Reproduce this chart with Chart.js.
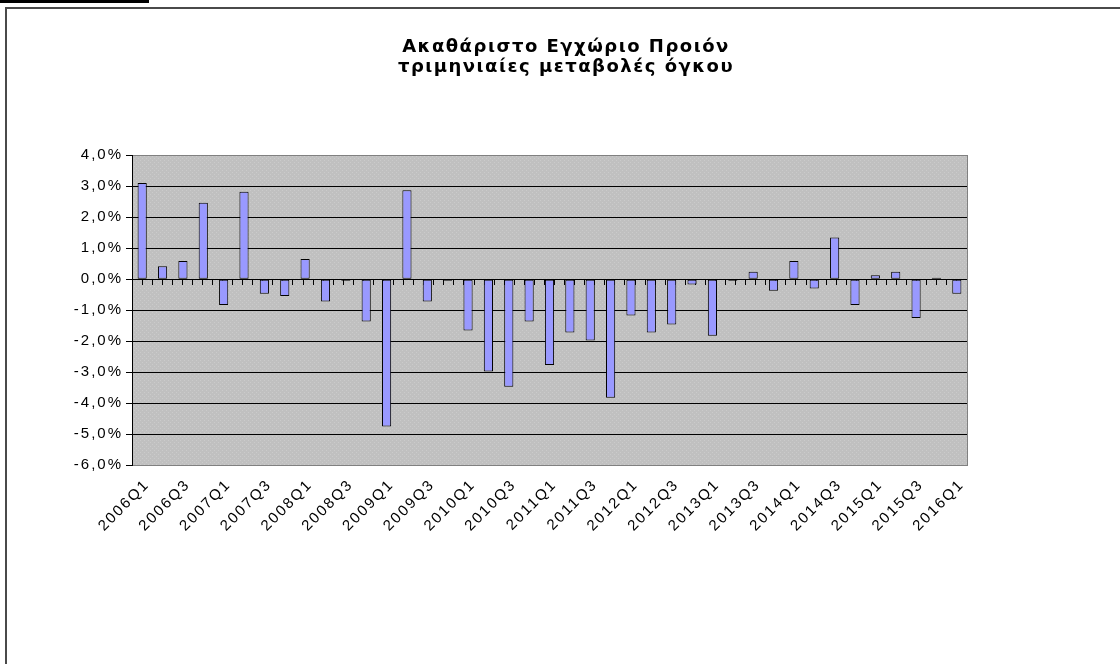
<!DOCTYPE html>
<html>
<head>
<meta charset="utf-8">
<title>ΑΕΠ - τριμηνιαίες μεταβολές</title>
<script src="https://cdn.jsdelivr.net/npm/chart.js@4.4.1/dist/chart.umd.min.js"></script>
<style>
	html, body { margin: 0; padding: 0; background: #fff; }
	#wrap { position: relative; width: 1120px; height: 664px; overflow: hidden; }
	#box { position: absolute; left: 0; top: 0; width: 1120px; height: 664px; }
	.tab { position: absolute; left: 0; top: 0; width: 149px; height: 3px; background: #000; }
	.frameTop { position: absolute; left: 5px; top: 7px; right: 0; height: 2px; background: #4a4a4a; }
	.frameLeft { position: absolute; left: 5px; top: 7px; bottom: 0; width: 2px; background: #4a4a4a; }
</style>
</head>
<body>
<div id="wrap">
	<div id="box"><canvas id="gdpcanvas"></canvas></div>
	<div class="tab"></div>
	<div class="frameTop"></div>
	<div class="frameLeft"></div>
</div>
<script>
	var titleLines = ['Ακαθάριστο Εγχώριο Προιόν', 'τριμηνιαίες μεταβολές όγκου'];

	var quarters = [
		'2006Q1', '2006Q2', '2006Q3', '2006Q4',
		'2007Q1', '2007Q2', '2007Q3', '2007Q4',
		'2008Q1', '2008Q2', '2008Q3', '2008Q4',
		'2009Q1', '2009Q2', '2009Q3', '2009Q4',
		'2010Q1', '2010Q2', '2010Q3', '2010Q4',
		'2011Q1', '2011Q2', '2011Q3', '2011Q4',
		'2012Q1', '2012Q2', '2012Q3', '2012Q4',
		'2013Q1', '2013Q2', '2013Q3', '2013Q4',
		'2014Q1', '2014Q2', '2014Q3', '2014Q4',
		'2015Q1', '2015Q2', '2015Q3', '2015Q4',
		'2016Q1'
	];

	// % change on previous quarter
	var volumeChange = [
		3.11, 0.42, 0.59, 2.47,
		-0.83, 2.82, -0.47, -0.54,
		0.65, -0.72, -0.05, -1.37,
		-4.76, 2.87, -0.72, -0.05,
		-1.66, -2.98, -3.47, -1.37,
		-2.77, -1.72, -1.98, -3.83,
		-1.17, -1.72, -1.46, -0.17,
		-1.83, -0.05, 0.24, -0.37,
		0.59, -0.30, 1.35, -0.83,
		0.13, 0.24, -1.25, 0.05,
		-0.47
	];

	var yMin = -6,
		yMax = 4,
		yStep = 1;

	var spacing = '2px',
		titleSpacing = '1.5px';

	var tickFont = { family: 'Liberation Sans', size: 15 };

	var dots = document.createElement('canvas');
	dots.width = 4;
	dots.height = 4;
	(function (g) {
		g.fillStyle = '#c0c0c0';
		g.fillRect(0, 0, 4, 4);
		g.fillStyle = '#cbcbcb';
		g.fillRect(0, 0, 1, 1);
		g.fillRect(2, 2, 1, 1);
	})(dots.getContext('2d'));

	var plotBackground = {
		id: 'plotBackground',
		beforeUpdate: function (chart) {
			chart.ctx.letterSpacing = spacing;
		},
		beforeDraw: function (chart) {
			var a = chart.chartArea,
				ctx = chart.ctx;
			ctx.letterSpacing = spacing;
			ctx.save();
			ctx.fillStyle = ctx.createPattern(dots, 'repeat');
			ctx.fillRect(a.left, a.top, a.right - a.left, a.bottom - a.top);
			ctx.restore();
		}
	};

	function pct(v) {
		return v.toFixed(1).replace('.', ',') + '%';
	}

	var gdpChart = new Chart(document.getElementById('gdpcanvas'), {
		type: 'bar',
		data: {
			labels: quarters,
			datasets: [{
				data: volumeChange,
				xAxisID: 'x',
				yAxisID: 'y',
				backgroundColor: '#9999ff',
				borderColor: '#000',
				borderWidth: 1,
				borderSkipped: false,
				barPercentage: 0.45,
				categoryPercentage: 1.0
			}]
		},
		options: {
			responsive: true,
			maintainAspectRatio: false,
			animation: false,
			layout: { padding: { left: 12, right: 0, top: 0, bottom: 0 } },
			plugins: {
				legend: { display: false },
				tooltip: { enabled: false },
				title: {
					display: true,
					text: titleLines,
					color: '#000',
					font: { family: 'DejaVu Sans', size: 18, weight: 'bold', lineHeight: 1.12 },
					padding: { top: 37, bottom: 78 }
				}
			},
			scales: {
				x: {
					type: 'category',
					position: 'bottom',
					grid: { display: false },
					border: { display: false },
					ticks: {
						autoSkip: false,
						maxRotation: 45,
						minRotation: 45,
						padding: 3,
						labelOffset: 5,
						color: '#000',
						font: tickFont,
						callback: function (value, index) {
							return index % 2 === 0 ? quarters[index] : '';
						}
					},
					afterFit: function (scale) { scale.height = 199; }
				},
				x2: {
					type: 'linear',
					position: { y: 0 },
					min: 0,
					max: quarters.length,
					ticks: { display: false, stepSize: 0.5, autoSkip: false, maxTicksLimit: 500 },
					grid: { drawOnChartArea: false, drawTicks: true, tickLength: 6, color: '#000' },
					border: { display: false },
					afterFit: function (scale) { scale.height = 0; }
				},
				y: {
					position: 'left',
					min: yMin,
					max: yMax,
					ticks: {
						stepSize: yStep,
						padding: 3,
						color: '#000',
						font: tickFont,
						callback: function (v) { return pct(v); }
					},
					grid: {
						color: function (c) {
							return (c.tick && (c.tick.value === yMax || c.tick.value === yMin)) ? '#808080' : '#000';
						},
						tickColor: '#000',
						tickLength: 6,
						lineWidth: 1
					},
					border: { color: '#000', width: 1 },
					afterFit: function (scale) { scale.width = 120; }
				},
				y2: {
					position: 'right',
					ticks: { display: false },
					grid: { display: false },
					border: { display: true, color: '#808080', width: 1 },
					afterFit: function (scale) { scale.width = 153; }
				}
			}
		},
		plugins: [plotBackground]
	});

	// the title gets its own letter spacing
	var titleBlock = gdpChart.titleBlock;
	if (titleBlock) {
		var titleDraw = titleBlock.draw;
		titleBlock.draw = function () {
			var ctx = this.ctx;
			ctx.letterSpacing = titleSpacing;
			titleDraw.apply(this, arguments);
			ctx.letterSpacing = spacing;
		};
		gdpChart.draw();
	}
</script>
</body>
</html>
